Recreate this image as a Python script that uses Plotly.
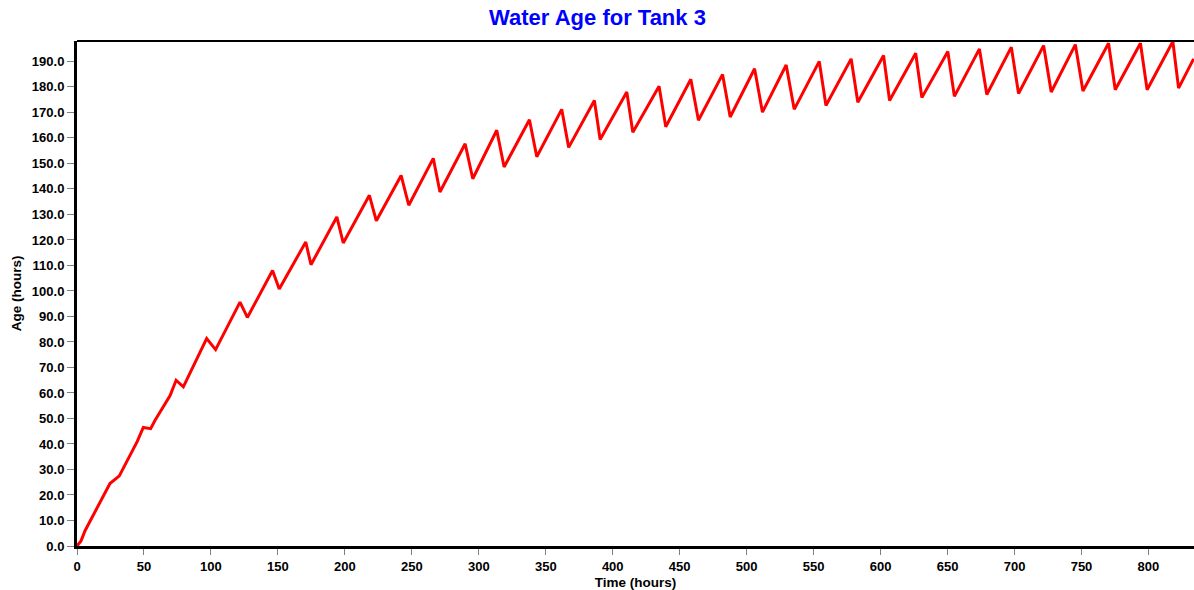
import plotly.graph_objects as go

# Time (hours) and water age (hours)
time_hours = [
    0, 3, 6, 12, 20, 24.6, 31.6, 45, 49.5, 55, 58.3, 69.5,
    74.0, 79.4, 96.8, 103.5, 121.7, 127.2, 146.0, 151.0, 170.8, 174.7,
    194.0, 198.8, 218.3, 223.5, 242.0, 247.7, 266.0, 271.0, 289.8, 295.5,
    313.4, 318.9, 337.8, 343.3, 361.9, 367.1, 386.3, 390.6, 410.5, 415.0,
    434.6, 439.6, 458.3, 464.0, 482.0, 487.7, 505.9, 511.8, 529.5, 535.5,
    554.2, 559.2, 578.0, 583.0, 602.2, 606.7, 626.2, 630.8, 650.2, 655.1,
    673.8, 679.3, 697.6, 703.0, 721.7, 727.4, 745.4, 751.1, 770.2, 775.2,
    794.0, 799.0, 818.2, 822.5, 833.7,
]
age_hours = [
    0, 2, 6, 12, 19.5, 24.5, 27.5, 41, 46.5, 46, 49.3, 59,
    65.0, 62.4, 81.3, 77.0, 95.6, 89.6, 108.0, 100.8, 119.2, 110.3,
    129.0, 118.8, 137.5, 127.5, 145.3, 133.6, 152.0, 138.8, 157.7, 144.0,
    163.0, 148.6, 167.1, 152.6, 171.2, 156.3, 174.7, 159.4, 178.0, 162.2,
    180.3, 164.4, 183.0, 166.9, 184.9, 168.2, 187.1, 170.1, 188.6, 171.2,
    190.0, 172.7, 191.0, 174.0, 192.3, 174.7, 193.2, 175.8, 193.9, 176.3,
    194.9, 177.0, 195.6, 177.4, 196.2, 178.0, 196.6, 178.4, 197.1, 178.9,
    197.1, 178.9, 197.8, 179.5, 191.0,
]

x_ticks = [0, 50, 100, 150, 200, 250, 300, 350, 400, 450, 500, 550, 600, 650, 700, 750, 800]
y_ticks = [0, 10, 20, 30, 40, 50, 60, 70, 80, 90, 100, 110, 120, 130, 140, 150, 160, 170, 180, 190]

FONT = "Liberation Sans, Arial, sans-serif"

fig = go.Figure(
    go.Scatter(
        x=time_hours,
        y=age_hours,
        mode="lines",
        line=dict(color="#ff0000", width=3),
        showlegend=False,
        hoverinfo="x+y",
    )
)

axis_common = dict(
    showgrid=False,
    zeroline=False,
    showline=True,
    linecolor="black",
    linewidth=3,
    ticks="outside",
    tickcolor="#808080",
    tickwidth=1,
    tickfont=dict(family=FONT, size=13, color="black", weight="bold"),
    title_font=dict(family=FONT, size=13.5, color="black", weight="bold"),
)

fig.update_xaxes(
    range=[0, 834],
    tickvals=x_ticks,
    ticktext=[str(v) for v in x_ticks],
    ticklen=6,
    title_text="Time (hours)",
    title_standoff=5,
    **axis_common,
)
fig.update_yaxes(
    range=[0, 198],
    tickvals=y_ticks,
    ticktext=[f"{v:.1f}" for v in y_ticks],
    ticklen=7,
    title_text="Age (hours)",
    title_standoff=8,
    **axis_common,
)

fig.add_shape(
    type="line", xref="paper", yref="paper",
    x0=0, x1=1, y0=1, y1=1,
    line=dict(color="black", width=2),
)

W, H = 1194, 590
fig.update_layout(
    width=W,
    height=H,
    margin=dict(l=77, r=0, t=41, b=44),
    paper_bgcolor="white",
    plot_bgcolor="white",
    title=dict(
        text="Water Age for Tank 3",
        font=dict(family=FONT, size=22, color="#0000ff", weight="bold"),
        x=597.5 / W, xref="container", xanchor="center",
        y=1 - 17 / H, yref="container", yanchor="middle",
    ),
)

fig.write_html(
    "out.html",
    config={"displayModeBar": False},
    post_script=(
        "document.body.style.margin='0';"
        "document.body.style.overflow='hidden';"
        "document.documentElement.style.overflow='hidden';"
    ),
)
